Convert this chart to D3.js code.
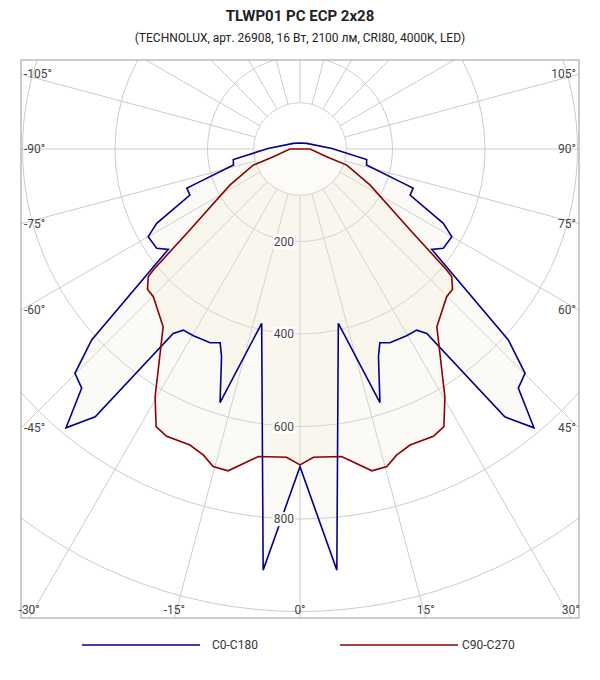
<!DOCTYPE html>
<html>
<head>
<meta charset="utf-8">
<script src="https://cdn.jsdelivr.net/npm/d3@7"></script>
<style>
  body { margin: 0; background: #fff; font-family: Roboto, "Noto Sans", sans-serif; }
</style>
</head>
<body>
<svg id="chart" width="600" height="680"></svg>
<script>
// half-curves, angle in degrees from nadir (negative = left), value in cd
const c0Angles  = [-180, -130, -91, -81, -76.5, -71.4, -70.9, -67.3, -62.6, -60, -55.3, -52.7, -47.5, -45.1, -42.4, -40, -37.4, -34.5, -32.8, -29.7, -24.9, -22.4, -20.7, -17.5, -12.4, -5, 0];
const c0Values  = [13, 19, 69, 146, 148, 243, 259, 258, 349, 379, 377, 358, 611, 687, 700, 787, 729, 484, 466, 465, 462, 453, 480, 575, 386, 914, 687];
const c90Angles = [-180, -90, -74, -71, -62.8, -53.5, -50.5, -49.9, -47.4, -44.8, -37.6, -30.3, -27.4, -24.9, -20.4, -17.5, -15.3, -12.6, -7.7, -2.5, 0];
const c90Values = [0, 22, 60, 107, 170, 300, 411, 429, 448, 450, 485, 621, 676, 685, 683, 694, 712, 713, 671, 667, 683];

const ringValues = [100, 200, 400, 600, 800, 1000, 1200];
const ringLabels = [200, 400, 600, 800];
const spokeAngles = d3.range(-180, 180, 15);
const series = [
  { name: "C0-C180", angles: c0Angles, values: c0Values, color: "#00008b" },
  { name: "C90-C270", angles: c90Angles, values: c90Values, color: "#8b0000" }
];

const svg = d3.select("#chart");
const cx = 300, cy = 149;
const box = { x0: 21, y0: 60, x1: 579, y1: 618 };
const r = d3.scaleLinear().domain([0, 200]).range([0, 92.5]);

svg.append("text").attr("x", 300).attr("y", 21).attr("text-anchor", "middle")
  .attr("font-size", 15).attr("font-weight", "bold").attr("fill", "#222").text("TLWP01 PC ECP 2x28");
svg.append("text").attr("x", 300).attr("y", 42).attr("text-anchor", "middle")
  .attr("font-size", 12).attr("fill", "#222")
  .text("(TECHNOLUX, арт. 26908, 16 Вт, 2100 лм, CRI80, 4000K, LED)");

svg.append("clipPath").attr("id", "clip").append("rect")
  .attr("x", box.x0).attr("y", box.y0).attr("width", box.x1 - box.x0).attr("height", box.y1 - box.y0);

const plot = svg.append("g").attr("clip-path", "url(#clip)");
const g = plot.append("g").attr("transform", `translate(${cx},${cy})`);

// grid
g.selectAll(".ring").data(ringValues).join("circle")
  .attr("r", d => r(d)).attr("fill", "none").attr("stroke", "#ccc").attr("stroke-width", 1);
const toRad = a => (a * Math.PI) / 180;
g.selectAll(".spoke").data(spokeAngles).join("line")
  .attr("x1", d => r(100) * Math.sin(toRad(d))).attr("y1", d => r(100) * Math.cos(toRad(d)))
  .attr("x2", d => 900 * Math.sin(toRad(d))).attr("y2", d => 900 * Math.cos(toRad(d)))
  .attr("stroke", "#ccc").attr("stroke-width", 1);

// curves: mirror half to full
function fullCurve(s) {
  const left = s.angles.map((a, i) => [a, s.values[i]]);
  const right = left.slice(0, -1).reverse().map(([a, v]) => [-a, v]);
  return left.concat(right);
}
const radial = d3.lineRadial()
  .angle(d => Math.PI - toRad(d[0]))
  .radius(d => r(d[1]))
  .curve(d3.curveLinearClosed);

series.forEach(s => {
  g.append("path").attr("d", radial(fullCurve(s)))
    .attr("fill", "rgba(238,228,210,0.2)").attr("stroke", "none");
});
g.append("circle").attr("r", r(100)).attr("fill", "rgba(255,255,255,0.5)").attr("stroke", "#ddd");
series.forEach(s => {
  g.append("path").attr("d", radial(fullCurve(s)))
    .attr("fill", "none").attr("stroke", s.color).attr("stroke-width", 1.6);
});

// radial labels
ringLabels.forEach(v => {
  const t = g.append("text").attr("x", -6).attr("y", r(v)).attr("dy", "0.35em")
    .attr("text-anchor", "end").attr("font-size", 12).attr("fill", "#444").text(v);
  const bb = t.node().getBBox();
  g.insert("rect", "text").attr("x", bb.x - 1).attr("y", bb.y).attr("width", bb.width + 2)
    .attr("height", bb.height).attr("fill", "#fff");
});
g.selectAll("text").raise();

// border
svg.append("rect").attr("x", box.x0).attr("y", box.y0).attr("width", box.x1 - box.x0)
  .attr("height", box.y1 - box.y0).attr("fill", "none").attr("stroke", "#999");

// angle labels where spokes meet the border
const angLabels = [-105, -90, -75, -60, -45, -30, -15, 0, 15, 30, 45, 60, 75, 90, 105];
angLabels.forEach(a => {
  const dx = Math.sin(toRad(a)), dy = Math.cos(toRad(a));
  let x, y, anchor;
  const tx = dx !== 0 ? ((dx < 0 ? box.x0 : box.x1) - cx) / dx : Infinity;
  const ty = dy > 0 ? (box.y1 - cy) / dy : (dy < 0 ? (box.y0 - cy) / dy : Infinity);
  if (tx < ty) {
    x = dx < 0 ? box.x0 + 3 : box.x1 - 3; y = Math.max(cy + tx * dy, box.y0 + 10);
    anchor = dx < 0 ? "start" : "end";
  } else {
    x = cx + ty * dx; y = box.y1 - 8; anchor = "middle";
  }
  const t = svg.append("text").attr("x", x).attr("y", y).attr("dy", "0.35em")
    .attr("text-anchor", anchor).attr("font-size", 12).attr("fill", "#444").text(a + "°");
  const bb = t.node().getBBox();
  svg.insert("rect", "text").attr("x", bb.x - 1).attr("y", bb.y).attr("width", bb.width + 2)
    .attr("height", bb.height).attr("fill", "#fff");
});
svg.selectAll("text").raise();

// legend
const legendX = [82, 340];
series.forEach((s, i) => {
  svg.append("line").attr("x1", legendX[i]).attr("x2", legendX[i] + 118)
    .attr("y1", 645).attr("y2", 645).attr("stroke", s.color).attr("stroke-width", 1.6);
  svg.append("text").attr("x", legendX[i] + 122 + (i === 0 ? 8 : 0)).attr("y", 645).attr("dy", "0.35em")
    .attr("font-size", 12).attr("fill", "#333").text(s.name);
});
</script>
</body>
</html>
